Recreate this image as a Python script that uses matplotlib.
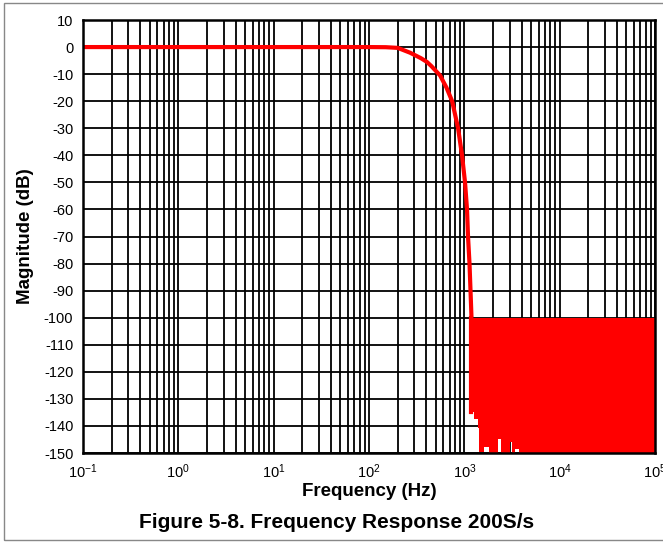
import matplotlib
matplotlib.use('Agg')
import matplotlib.pyplot as plt
from matplotlib.patches import Rectangle
import numpy as np

plt.rcParams['font.family'] = ['Liberation Sans', 'DejaVu Sans']
plt.rcParams['mathtext.default'] = 'regular'
plt.rcParams['axes.unicode_minus'] = False

# main response curve
freq = [0.1, 1, 10, 50, 100, 150, 200, 270, 350, 405, 450, 557, 650, 745, 860, 946,
        1017, 1067, 1093, 1133, 1161, 1189]
mag = [0, 0, 0, 0, 0, -0.05, -0.3, -2.1, -4.1, -5.5, -7, -10.5, -15, -20, -30, -40,
       -50, -60, -70, -80, -90, -100]

# stopband ripple region: top at -100 dB, lower edge
band_f = [1175, 1263, 1390, 1415, 1607, 1814, 2255, 2426, 3015, 3162, 3404, 3750, 100000]
band_lo = [-135, -137.5, -140.7, -149.5, -147.6, -150, -145, -150, -146, -150, -148.5, -150, -150]
band_top = -100

xticks = [0.1, 1, 10, 100, 1000, 10000, 100000]
xticklabels = ['10$^{-1}$', '10$^{0}$', '10$^{1}$', '10$^{2}$', '10$^{3}$', '10$^{4}$', '10$^{5}$']
yticks = list(range(-150, 11, 10))

fig = plt.figure(figsize=(6.63, 5.44), dpi=100)
ax = fig.add_axes([83/663, 1 - 453/544, (655-83)/663, (453-20)/544])

ax.set_xscale('log')
ax.set_xlim(0.1, 100000)
ax.set_ylim(-150, 10)

ax.fill_between(band_f, band_lo, band_top, step='post', color='#ff0000', lw=0, zorder=3)
ax.plot(freq, mag, color='#ff0000', lw=3, zorder=4, solid_capstyle='butt')
ax.plot([band_f[0], band_f[0]], [band_top, band_lo[0]], color='#ff0000', lw=3, zorder=4)

ax.set_xticks(xticks)
ax.set_xticklabels(xticklabels)
ax.set_yticks(yticks)
ax.xaxis.set_minor_locator(matplotlib.ticker.LogLocator(base=10, subs=np.arange(2, 10), numticks=20))
ax.xaxis.set_minor_formatter(matplotlib.ticker.NullFormatter())
ax.grid(True, which='major', color='black', lw=1.3)
ax.grid(True, which='minor', axis='x', color='black', lw=1.3)
ax.set_axisbelow(True)
ax.tick_params(which='both', length=0, labelsize=10.5, pad=7)

for s in ax.spines.values():
    s.set_linewidth(1.8)
    s.set_zorder(5)

ax.set_xlabel('Frequency (Hz)', fontsize=13.5, fontweight='bold')
ax.xaxis.set_label_coords(0.5, 1 - (491-20)/(453-20))
ax.xaxis.label.set_va('center')
ax.set_ylabel('Magnitude (dB)', fontsize=13.5, fontweight='bold')
ax.yaxis.set_label_coords((25-83)/(655-83), 0.5)
ax.yaxis.label.set_va('center')

fig.text(337/663, 1 - 522/544, 'Figure 5-8. Frequency Response 200S/s',
         ha='center', va='center', fontsize=15, fontweight='bold')

fig.patches.append(Rectangle((4/663, 1 - 540/544), 662/663, 537/544,
                             transform=fig.transFigure, fill=False,
                             edgecolor='#888888', lw=1))

fig.savefig('out.png', dpi=100)
